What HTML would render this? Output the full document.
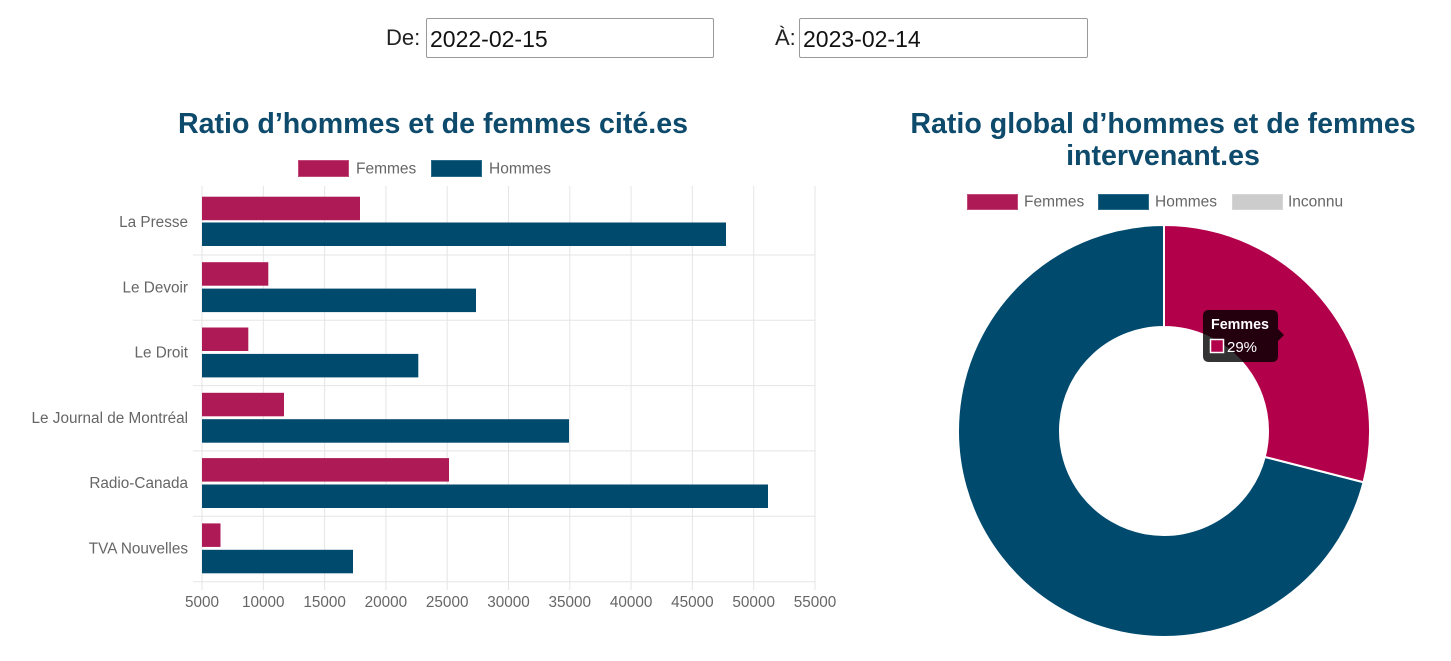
<!DOCTYPE html>
<html>
<head>
<meta charset="utf-8">
<style>
html,body{margin:0;padding:0;background:#fff;}
body{width:1451px;height:661px;position:relative;overflow:hidden;font-family:"Liberation Sans",sans-serif;}
.lbl{position:absolute;font-size:22px;color:#222;}
.inp{position:absolute;height:37px;border:1px solid #9a9a9a;border-radius:2px;background:#fff;font-size:23px;color:#111;line-height:37px;padding-left:3px;box-sizing:border-box;}
svg{position:absolute;left:0;top:0;}
</style>
</head>
<body>
<div class="lbl" style="left:386px;top:25px;">De:</div>
<div class="inp" style="left:426px;top:18px;width:288px;height:40px;line-height:40px;">2022-02-15</div>
<div class="lbl" style="left:775px;top:25px;">À:</div>
<div class="inp" style="left:799px;top:18px;width:289px;height:40px;line-height:40px;">2023-02-14</div>

<svg width="1451" height="661" viewBox="0 0 1451 661" xmlns="http://www.w3.org/2000/svg" font-family="Liberation Sans, sans-serif">
  <!-- Left title -->
  <text x="433" y="133" text-anchor="middle" font-size="28.6" font-weight="bold" fill="#0d4a6b">Ratio d’hommes et de femmes cité.es</text>
  <!-- Left legend -->
  <rect x="298.5" y="160.5" width="50" height="16" fill="#ad1a55" stroke="#c24a78" stroke-width="1"/>
  <text x="356" y="173.5" font-size="15.5" fill="#666">Femmes</text>
  <rect x="431.5" y="160.5" width="50" height="16" fill="#004a6e" stroke="#2a6a8a" stroke-width="1"/>
  <text x="489" y="173.5" font-size="15.5" fill="#666">Hommes</text>

  <!-- grid vertical -->
  <g stroke="#e5e5e5" stroke-width="1">
    <line x1="202" y1="186" x2="202" y2="590"/>
    <line x1="263.3" y1="186" x2="263.3" y2="590"/>
    <line x1="324.6" y1="186" x2="324.6" y2="590"/>
    <line x1="385.9" y1="186" x2="385.9" y2="590"/>
    <line x1="447.2" y1="186" x2="447.2" y2="590"/>
    <line x1="508.5" y1="186" x2="508.5" y2="590"/>
    <line x1="569.8" y1="186" x2="569.8" y2="590"/>
    <line x1="631.1" y1="186" x2="631.1" y2="590"/>
    <line x1="692.4" y1="186" x2="692.4" y2="590"/>
    <line x1="753.7" y1="186" x2="753.7" y2="590"/>
    <line x1="815" y1="186" x2="815" y2="590"/>
    <!-- horizontal -->
    <line x1="193" y1="255" x2="815" y2="255"/>
    <line x1="193" y1="320.3" x2="815" y2="320.3"/>
    <line x1="193" y1="385.6" x2="815" y2="385.6"/>
    <line x1="193" y1="450.9" x2="815" y2="450.9"/>
    <line x1="193" y1="516.2" x2="815" y2="516.2"/>
    <line x1="193" y1="581.7" x2="815" y2="581.7"/>
  </g>

  <!-- bars -->
  <g>
    <rect x="202" y="196.7" width="158" height="23.5" fill="#ad1a55"/>
    <rect x="202" y="222.5" width="524" height="23.5" fill="#004a6e"/>

    <rect x="202" y="262.2" width="66.3" height="23.5" fill="#ad1a55"/>
    <rect x="202" y="288.6" width="274" height="23.5" fill="#004a6e"/>

    <rect x="202" y="327.5" width="46.3" height="23.5" fill="#ad1a55"/>
    <rect x="202" y="353.9" width="216.3" height="23.5" fill="#004a6e"/>

    <rect x="202" y="392.8" width="82" height="23.5" fill="#ad1a55"/>
    <rect x="202" y="419.2" width="367" height="23.5" fill="#004a6e"/>

    <rect x="202" y="458.1" width="247" height="23.5" fill="#ad1a55"/>
    <rect x="202" y="484.5" width="566" height="23.5" fill="#004a6e"/>

    <rect x="202" y="523.4" width="18.5" height="23.5" fill="#ad1a55"/>
    <rect x="202" y="549.8" width="151" height="23.5" fill="#004a6e"/>
  </g>

  <!-- y labels -->
  <g font-size="15.3" fill="#666" text-anchor="end">
    <text x="188" y="227">La Presse</text>
    <text x="188" y="292.3">Le Devoir</text>
    <text x="188" y="357.6">Le Droit</text>
    <text x="188" y="422.9">Le Journal de Montréal</text>
    <text x="188" y="488.2">Radio-Canada</text>
    <text x="188" y="553.5">TVA Nouvelles</text>
  </g>
  <!-- x labels -->
  <g font-size="15.3" fill="#666" text-anchor="middle">
    <text x="202" y="607">5000</text>
    <text x="263.3" y="607">10000</text>
    <text x="324.6" y="607">15000</text>
    <text x="385.9" y="607">20000</text>
    <text x="447.2" y="607">25000</text>
    <text x="508.5" y="607">30000</text>
    <text x="569.8" y="607">35000</text>
    <text x="631.1" y="607">40000</text>
    <text x="692.4" y="607">45000</text>
    <text x="753.7" y="607">50000</text>
    <text x="815" y="607">55000</text>
  </g>

  <!-- Right title -->
  <text x="1163" y="133" text-anchor="middle" font-size="28.6" font-weight="bold" fill="#0d4a6b">Ratio global d’hommes et de femmes</text>
  <text x="1163" y="165" text-anchor="middle" font-size="28.6" font-weight="bold" fill="#0d4a6b">intervenant.es</text>
  <!-- Right legend -->
  <rect x="967.5" y="194.5" width="50" height="15" fill="#ad1a55" stroke="#c24a78" stroke-width="1"/>
  <text x="1024" y="206.5" font-size="15.5" fill="#666">Femmes</text>
  <rect x="1098.5" y="194.5" width="50" height="15" fill="#004a6e" stroke="#2a6a8a" stroke-width="1"/>
  <text x="1155" y="206.5" font-size="15.5" fill="#666">Hommes</text>
  <rect x="1232.5" y="194.5" width="50" height="15" fill="#cccccc" stroke="#d6d6d6" stroke-width="1"/>
  <text x="1288" y="206.5" font-size="15.5" fill="#666">Inconnu</text>

  <!-- Donut -->
  <path d="M 1363.53 482.23 A 206 206 0 1 1 1164 225 L 1164 327 A 104 104 0 1 0 1264.73 456.86 Z" fill="#004a6e" stroke="#fff" stroke-width="2"/>
  <path d="M 1164 225 A 206 206 0 0 1 1363.53 482.23 L 1264.73 456.86 A 104 104 0 0 0 1164 327 Z" fill="#b3004b" stroke="#fff" stroke-width="2"/>

  <!-- Tooltip -->
  <path d="M 1209 310 L 1272 310 Q 1278 310 1278 316 L 1278 329 L 1284 335 L 1278 341 L 1278 356 Q 1278 362 1272 362 L 1209 362 Q 1203 362 1203 356 L 1203 316 Q 1203 310 1209 310 Z" fill="rgba(0,0,0,0.8)"/>
  <text x="1211" y="329" font-size="14.3" font-weight="bold" fill="#fff">Femmes</text>
  <rect x="1210.5" y="339.5" width="13" height="13" fill="#b3004b" stroke="#fff" stroke-width="1.5"/>
  <text x="1227" y="352" font-size="15" fill="#fff">29%</text>
</svg>
</body>
</html>
